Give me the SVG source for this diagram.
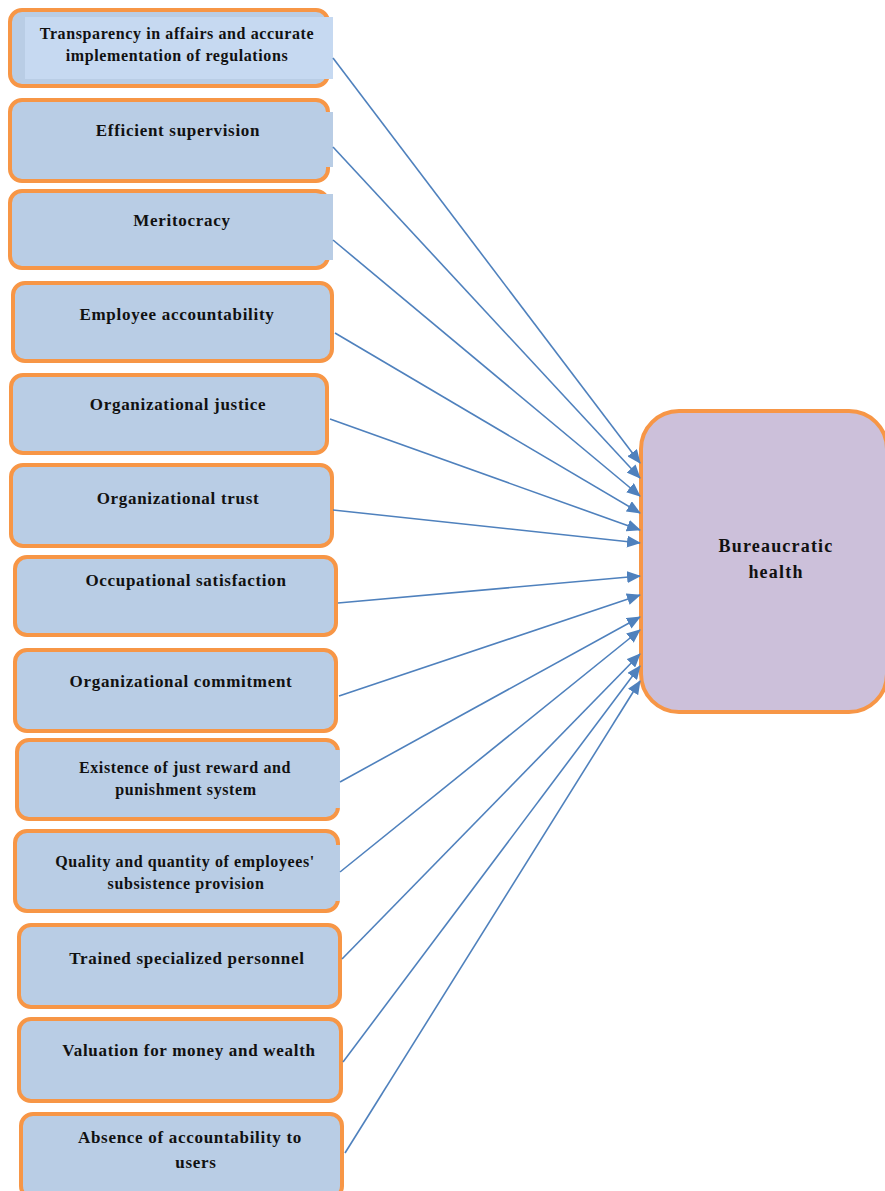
<svg xmlns="http://www.w3.org/2000/svg" width="885" height="1191" viewBox="0 0 885 1191">
<style>
.box{fill:#B9CDE5;stroke:#F79646;stroke-width:4}
.patch{fill:#B9CDE5}
.t{font-family:"Liberation Serif","Times New Roman",serif;font-weight:bold;font-size:17px;letter-spacing:0.7px;fill:#111;text-anchor:middle}
.s{font-size:16px;letter-spacing:0.6px}
.c{stroke:#4F81BD;stroke-width:1.6;fill:none;marker-end:url(#ah)}
</style>
<defs>
<marker id="ah" markerUnits="userSpaceOnUse" markerWidth="14" markerHeight="12" refX="13" refY="6" orient="auto">
<path d="M0,0 L14,6 L0,12 Z" fill="#4F81BD"/>
</marker>
</defs>
<rect width="885" height="1191" fill="#fff"/>
<g id="n1">
<rect class="box" x="10" y="10" width="318" height="76" rx="12"/>
<rect x="25" y="17" width="308" height="62" fill="#C6D9F1"/>
<text class="t s" x="177" y="39">Transparency in affairs and accurate</text>
<text class="t s" x="177" y="61">implementation of regulations</text>
</g>
<g id="n2">
<rect class="box" x="10" y="100" width="318" height="81" rx="12"/>
<rect class="patch" x="318" y="112" width="15" height="55"/>
<text class="t" x="178" y="136">Efficient supervision</text>
</g>
<g id="n3">
<rect class="box" x="10" y="191" width="318" height="77" rx="12"/>
<rect class="patch" x="318" y="194" width="15" height="66"/>
<text class="t" x="182" y="226">Meritocracy</text>
</g>
<g id="n4">
<rect class="box" x="13" y="283" width="319" height="78" rx="12"/>
<text class="t" x="177" y="320">Employee accountability</text>
</g>
<g id="n5">
<rect class="box" x="11" y="375" width="316" height="78" rx="12"/>
<text class="t" x="178" y="410">Organizational justice</text>
</g>
<g id="n6">
<rect class="box" x="11" y="465" width="321" height="81" rx="12"/>
<text class="t" x="178" y="504">Organizational trust</text>
</g>
<g id="n7">
<rect class="box" x="15" y="557" width="321" height="78" rx="12"/>
<text class="t" x="186" y="586">Occupational satisfaction</text>
</g>
<g id="n8">
<rect class="box" x="15" y="650" width="321" height="81" rx="12"/>
<text class="t" x="181" y="687">Organizational commitment</text>
</g>
<g id="n9">
<rect class="box" x="17" y="740" width="321" height="79" rx="12"/>
<rect class="patch" x="328" y="750" width="12" height="58"/>
<text class="t s" x="185" y="773">Existence of just reward and</text>
<text class="t s" x="186" y="795">punishment system</text>
</g>
<g id="n10">
<rect class="box" x="15" y="831" width="323" height="80" rx="12"/>
<rect class="patch" x="328" y="845" width="12" height="56"/>
<text class="t s" x="185" y="867">Quality and quantity of employees'</text>
<text class="t s" x="186" y="889">subsistence provision</text>
</g>
<g id="n11">
<rect class="box" x="19" y="925" width="321" height="82" rx="12"/>
<text class="t" x="187" y="964">Trained specialized  personnel</text>
</g>
<g id="n12">
<rect class="box" x="19" y="1019" width="322" height="82" rx="12"/>
<text class="t" x="189" y="1056">Valuation for money and wealth</text>
</g>
<g id="n13">
<rect class="box" x="21" y="1114" width="321" height="84" rx="12"/>
<text class="t" x="190" y="1143">Absence of accountability to</text>
<text class="t" x="196" y="1168">users</text>
</g>
<g id="target">
<rect x="641" y="411" width="246" height="301" rx="38" fill="#CCC0DA" stroke="#F79646" stroke-width="4"/>
<text class="t" x="776" y="552" style="font-size:18px;letter-spacing:1.2px">Bureaucratic</text>
<text class="t" x="776" y="578" style="font-size:18px;letter-spacing:1.2px">health</text>
</g>
<g id="connectors">
<line class="c" x1="333" y1="58" x2="640" y2="463"/>
<line class="c" x1="333" y1="147" x2="640" y2="478"/>
<line class="c" x1="333" y1="240" x2="640" y2="496"/>
<line class="c" x1="335" y1="333" x2="640" y2="513"/>
<line class="c" x1="330" y1="419" x2="640" y2="530"/>
<line class="c" x1="333" y1="510" x2="640" y2="543"/>
<line class="c" x1="338" y1="603" x2="640" y2="576"/>
<line class="c" x1="339" y1="696" x2="640" y2="595"/>
<line class="c" x1="340" y1="782" x2="640" y2="617"/>
<line class="c" x1="340" y1="872" x2="640" y2="630"/>
<line class="c" x1="342" y1="959" x2="640" y2="654"/>
<line class="c" x1="343" y1="1062" x2="640" y2="666"/>
<line class="c" x1="345" y1="1153" x2="640" y2="681"/>
</g>
</svg>
